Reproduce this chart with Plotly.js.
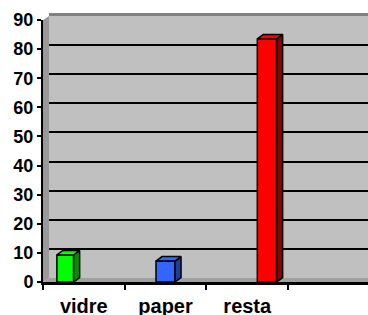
<!DOCTYPE html>
<html>
<head>
<meta charset="utf-8">
<script src="https://cdn.plot.ly/plotly-3.0.1.min.js"></script>
<style>html,body{margin:0;padding:0;background:#fff;}#chart{width:368px;height:315px;}</style>
</head>
<body>
<div id="chart"></div>
<script>
// ---- data ----
const categories = ["vidre", "paper", "resta"];
const values = [9.3, 7.2, 83.5];
const yTickVals = [0, 10, 20, 30, 40, 50, 60, 70, 80, 90];

// ---- styles ----
const frontColors = ["#00ff00", "#3366ff", "#ff0000"];
const sideColors  = ["#009000", "#1f3d9f", "#8c0000"];
const barOffsets  = [-0.33, -0.117, 0.123];
const barWidths   = [0.205, 0.233, 0.237];
const W = 368, H = 315;
const M = {l: 43, r: 0, t: 16, b: 33};
const plotW = W - M.l - M.r, plotH = H - M.t - M.b;
const depthX = 6, depthY = 4.5;            // pixel depth of the 3D effect
const xMin = -0.5, pxPerCat = 81.7;
const xMax = xMin + plotW / pxPerCat;
const frontDomTop = (plotH - 4) / plotH;   // front y axis domain
const pxPerUnitY = (frontDomTop * plotH) / 90;
const dxU = depthX / pxPerCat, dyU = depthY / pxPerUnitY;
const font = {family: '"Liberation Sans", Arial, sans-serif', color: '#000', weight: 'bold'};

const traces = [];
// placeholder so the wall subplot exists
traces.push({type: 'scatter', x: [], y: [], xaxis: 'x', yaxis: 'y', showlegend: false, hoverinfo: 'skip'});
// front faces of the columns
traces.push({
  type: 'bar', x: categories, y: values, xaxis: 'x2', yaxis: 'y2',
  offset: barOffsets, width: barWidths,
  marker: {color: frontColors, line: {color: '#000', width: 1.5}},
  showlegend: false, hoverinfo: 'skip'
});
// side and top faces, computed from the data
categories.forEach((c, i) => {
  const l = i + barOffsets[i], r = l + barWidths[i], v = values[i];
  traces.push({
    type: 'scatter', mode: 'lines', xaxis: 'x3', yaxis: 'y2',
    x: [r, r + dxU, r + dxU, r, r], y: [0, dyU, v + dyU, v, 0],
    fill: 'toself', fillcolor: sideColors[i], line: {color: '#000', width: 1.5},
    showlegend: false, hoverinfo: 'skip'
  });
  traces.push({
    type: 'scatter', mode: 'lines', xaxis: 'x3', yaxis: 'y2',
    x: [l, l + dxU, r + dxU, r, l], y: [v, v + dyU, v + dyU, v, v],
    fill: 'toself', fillcolor: frontColors[i], line: {color: '#000', width: 1.5},
    showlegend: false, hoverinfo: 'skip'
  });
});

const wallX0 = depthX / plotW, wallY0 = 4 / plotH;
const layout = {
  width: W, height: H, margin: M,
  paper_bgcolor: '#fff', plot_bgcolor: 'rgba(0,0,0,0)',
  showlegend: false,
  // back wall
  xaxis: {domain: [wallX0, 1], anchor: 'y', range: [0, 1], side: 'top', showline: true,
          linecolor: '#808080', linewidth: 3, showgrid: false, zeroline: false,
          showticklabels: false, ticks: '', fixedrange: true},
  yaxis: {domain: [wallY0, 1], anchor: 'x', range: [0, 90], tickvals: yTickVals.slice(1, -1),
          showgrid: true, gridcolor: '#000', gridwidth: 2, zeroline: false, showline: false,
          showticklabels: false, ticks: '', fixedrange: true},
  // front axes
  xaxis2: {domain: [0, 1], anchor: 'y2', type: 'category', range: [xMin, xMax],
           tickson: 'boundaries', ticks: 'outside', ticklen: 5, tickwidth: 2, tickcolor: '#000',
           ticklabelstandoff: 4,
           showline: true, linecolor: '#000', linewidth: 2.5, showgrid: false, zeroline: false,
           tickfont: Object.assign({size: 20}, font), fixedrange: true},
  xaxis3: {overlaying: 'x2', anchor: 'y2', type: 'linear', range: [xMin, xMax], visible: false, fixedrange: true},
  yaxis2: {domain: [0, frontDomTop], anchor: 'x2', range: [0, 90], tickvals: yTickVals,
           ticks: 'outside', ticklen: 4, tickwidth: 2, tickcolor: '#000',
           showline: true, linecolor: '#000', linewidth: 2, showgrid: false, zeroline: false,
           tickfont: Object.assign({size: 18}, font), fixedrange: true},
  shapes: [
    // wall
    {type: 'rect', xref: 'paper', yref: 'paper', x0: wallX0, x1: 1, y0: wallY0, y1: 1,
     fillcolor: '#c0c0c0', line: {width: 0}, layer: 'below'},
    // floor
    {type: 'path', xref: 'paper', yref: 'paper', layer: 'below',
     path: `M 0 0 L 1 0 L 1 ${wallY0} L ${wallX0} ${wallY0} Z`, fillcolor: '#a0a0a0', line: {width: 0}},
    // side wall
    {type: 'path', xref: 'paper', yref: 'paper', layer: 'below',
     path: `M 0 0 L ${wallX0} ${wallY0} L ${wallX0} 1 L 0 ${frontDomTop} Z`, fillcolor: '#999999', line: {width: 0}}
  ]
};

Plotly.newPlot('chart', traces, layout, {displayModeBar: false, staticPlot: true});
</script>
</body>
</html>
